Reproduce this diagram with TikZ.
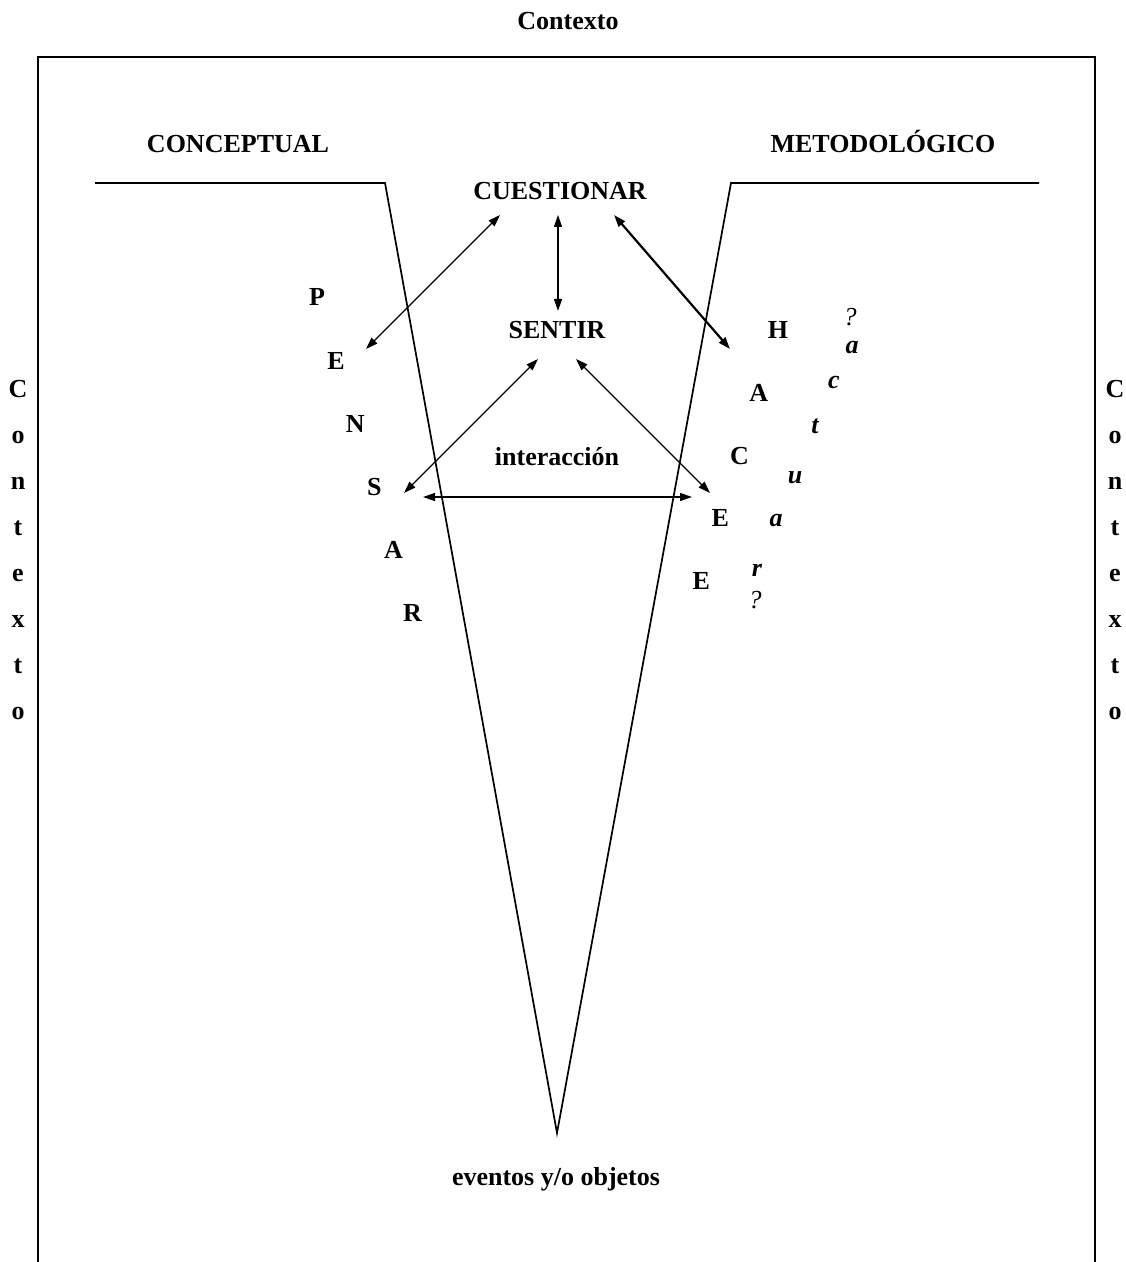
\documentclass[tikz,border=0pt]{standalone}
\usepackage{fontspec}
\setmainfont{Liberation Serif}
\usetikzlibrary{positioning, arrows.meta, calc}

\begin{document}
\begin{tikzpicture}[
    x=0.5pt, y=-0.5pt,
    >={Triangle[length=6pt, width=4pt]},
    lbl/.style={
        font=\fontsize{13}{15}\selectfont\bfseries,
        inner sep=0pt,
        anchor=base
    },
    ital/.style={
        lbl,
        font=\fontsize{13}{15}\selectfont\bfseries\itshape
    },
    qmark/.style={
        lbl,
        font=\fontsize{13}{15}\selectfont\itshape
    },
    frame/.style={
        line width=1pt
    },
    vee/.style={
        line width=0.85pt
    },
    arrow/.style={
        <->,
        line width=0.7pt
    }
]
    \useasboundingbox (0,0) rectangle (1125,1262);

    % Title and frame
    \node[lbl] (ctx) at (568,30) {Contexto};
    \draw[frame] (38,1262) -- (38,57) -- (1095,57) -- (1095,1262);

    % Side labels
    \foreach \ch [count=\i from 0] in {C,o,n,t,e,x,t,o} {
        \node[lbl] (ctxl\i) at (18,397+46*\i) {\ch};
        \node[lbl] (ctxr\i) at (1115,397+46*\i) {\ch};
    }

    % Headings
    \node[lbl] (conc) at (238,153) {CONCEPTUAL};
    \node[lbl] (meto) at (883,153) {METODOLÓGICO};

    % The V
    \coordinate (vl) at (95,183);
    \coordinate (vtl) at (385,183);
    \coordinate (vtip) at (557,1133);
    \coordinate (vtr) at (731,183);
    \coordinate (vr) at (1039,183);
    \draw[vee] (vl) -- (vtl) -- (vtip) -- (vtr) -- (vr);

    % Centre words
    \node[lbl] (cuest) at (560,200) {CUESTIONAR};
    \node[lbl] (sentir) at (557,339) {SENTIR};
    \node[lbl] (inter) at (557,465) {interacción};
    \node[lbl] (event) at (556,1185) {eventos y/o objetos};

    % PENSAR
    \foreach \ch [count=\i from 0] in {P,E,N,S,A,R}
        \node[lbl] (pen\i) at (317+19.1*\i,306+63*\i) {\ch};

    % HACEEE
    \foreach \ch [count=\i from 0] in {H,A,C,E,E}
        \node[lbl] (hac\i) at (778-19.2*\i,339+62.5*\i) {\ch};

    % actuar
    \node[qmark] (qa) at (850,326) {?};
    \foreach \ch/\x/\y [count=\i from 0] in {a/852/354, c/834/388, t/815/433, u/795/483, a/776/526, r/757/576}
        \node[ital] (act\i) at (\x,\y) {\ch};
    \node[qmark] (qb) at (755,608) {?};

    % Arrow ends
    \coordinate (cq1) at (500,215);
    \coordinate (cq2) at (558,215);
    \coordinate (cq3) at (614,215);
    \coordinate (pe1) at (366,349);
    \coordinate (se0) at (558,311);
    \coordinate (ha0) at (730,349);
    \coordinate (se1) at (538,359);
    \coordinate (se2) at (576,359);
    \coordinate (ps3) at (404,493);
    \coordinate (he3) at (710,493);
    \coordinate (il) at (423,497);
    \coordinate (ir) at (692,497);

    % Connections
    \draw[arrow] (cq1) -- (pe1);
    \draw[arrow] (cq2) -- (se0);
    \draw[arrow, line width=1.1pt] (cq3) -- (ha0);
    \draw[arrow] (se1) -- (ps3);
    \draw[arrow] (se2) -- (he3);
    \draw[arrow] (il) -- (ir);

\end{tikzpicture}
\end{document}
